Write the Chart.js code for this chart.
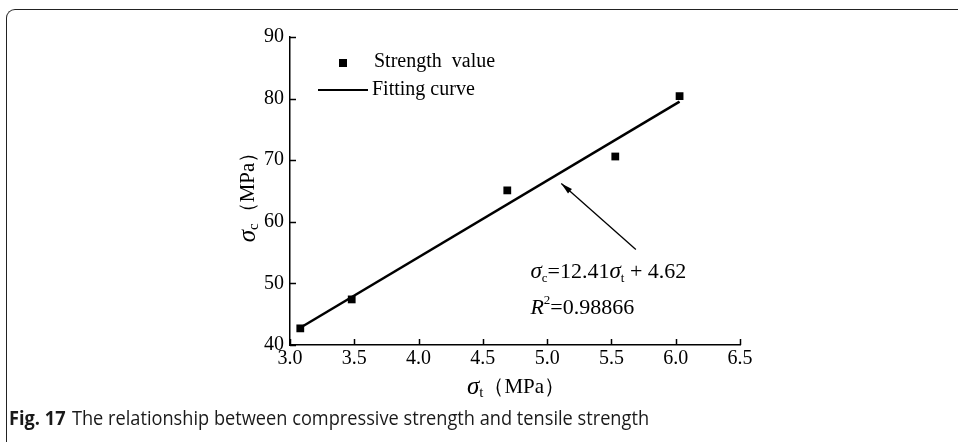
<!DOCTYPE html>
<html>
<head>
<meta charset="utf-8">
<script src="https://cdn.jsdelivr.net/npm/chart.js@4.4.1/dist/chart.umd.min.js"></script>
<style>
  html, body { margin: 0; padding: 0; background: #fff; }
  #wrap { position: relative; width: 958px; height: 442px; overflow: hidden; }
  #frame { position: absolute; left: 6px; top: 9px; width: 980px; height: 460px;
           border-left: 1.5px solid #222; border-top: 1.5px solid #222; border-top-left-radius: 9px; }
  #chart { position: absolute; left: 0; top: 0; }
  #caption { position: absolute; left: 9px; top: 404px; font-family: "Open Sans", sans-serif;
             font-size: 20px; color: #1a1a1a; white-space: nowrap; transform-origin: left center; transform: scaleX(0.91); }
  #caption b { font-weight: 700; margin-right: 7px; }
</style>
</head>
<body>
<div id="wrap">
  <div id="frame"></div>
  <canvas id="chart" width="958" height="442"></canvas>
  <div id="caption"><b>Fig. 17</b>The relationship between compressive strength and tensile strength</div>
</div>
<script>
const tensile = [3.08, 3.48, 4.69, 5.53, 6.03];       // σt (MPa)
const compressive = [42.7, 47.4, 65.1, 70.6, 80.4];   // σc (MPa)

// fitted line ends (σc = 12.41σt + 4.62)
const fitX = [3.08, 6.03];
const fitY = [42.8, 79.5];

const xTicks = [3.0, 3.5, 4.0, 4.5, 5.0, 5.5, 6.0, 6.5];
const yTicks = [40, 50, 60, 70, 80, 90];

const serif = '"Liberation Serif", "Times New Roman", serif';

// draws a list of text pieces left to right, returns the width
function drawPieces(ctx, pieces, x, y, align) {
  let w = 0;
  pieces.forEach(p => { ctx.font = p.font; w += ctx.measureText(p.t).width; });
  let cx = align === 'center' ? x - w / 2 : x;
  ctx.textBaseline = 'middle';
  ctx.textAlign = 'left';
  pieces.forEach(p => {
    ctx.font = p.font;
    ctx.fillText(p.t, cx, y + (p.dy || 0));
    cx += ctx.measureText(p.t).width;
  });
  return w;
}

const extras = {
  id: 'extras',
  afterDraw(chart) {
    const { ctx, scales: { x, y } } = chart;
    ctx.save();
    ctx.strokeStyle = '#000';
    ctx.fillStyle = '#000';

    // inward tick marks
    ctx.lineWidth = 1.5;
    xTicks.forEach(v => {
      const px = Math.round(x.getPixelForValue(v)) + 0.5;
      ctx.beginPath(); ctx.moveTo(px, y.bottom); ctx.lineTo(px, y.bottom - 6); ctx.stroke();
    });
    yTicks.forEach(v => {
      const py = Math.round(y.getPixelForValue(v)) + 0.5;
      ctx.beginPath(); ctx.moveTo(x.left, py); ctx.lineTo(x.left + 6, py); ctx.stroke();
    });

    // arrow pointing to the fitted line
    const x0 = x.getPixelForValue(5.69), y0 = y.getPixelForValue(55.5);
    const x1 = x.getPixelForValue(5.11), y1 = y.getPixelForValue(66.2);
    ctx.lineWidth = 1.3;
    ctx.beginPath(); ctx.moveTo(x0, y0); ctx.lineTo(x1, y1); ctx.stroke();
    const a = Math.atan2(y1 - y0, x1 - x0);
    ctx.beginPath();
    ctx.moveTo(x1, y1);
    ctx.lineTo(x1 - 12 * Math.cos(a - 0.25), y1 - 12 * Math.sin(a - 0.25));
    ctx.lineTo(x1 - 12 * Math.cos(a + 0.25), y1 - 12 * Math.sin(a + 0.25));
    ctx.closePath(); ctx.fill();

    // equation
    const big = '22px ' + serif, ital = 'italic 23px ' + serif, sm = '13px ' + serif;
    const ex = x.getPixelForValue(4.87);
    drawPieces(ctx, [
      { t: 'σ', font: ital }, { t: 'c', font: sm, dy: 6 }, { t: '=12.41', font: big },
      { t: 'σ', font: ital }, { t: 't', font: sm, dy: 6 }, { t: ' + 4.62', font: big }
    ], ex, y.getPixelForValue(51.8));
    drawPieces(ctx, [
      { t: 'R', font: 'italic 22px ' + serif }, { t: '2', font: sm, dy: -7 }, { t: '=0.98866', font: big }
    ], ex, y.getPixelForValue(46.0));

    // legend
    ctx.fillRect(339, 59, 8, 8);
    ctx.font = '20px ' + serif;
    ctx.textBaseline = 'middle';
    ctx.fillText('Strength  value', 374, 62);
    ctx.lineWidth = 2;
    ctx.beginPath(); ctx.moveTo(318, 90); ctx.lineTo(368, 90); ctx.stroke();
    ctx.fillText('Fitting curve', 372, 90);

    // axis titles
    const unit = '21px ' + serif;
    drawPieces(ctx, [
      { t: 'σ', font: 'italic 25px ' + serif }, { t: 't', font: '15px ' + serif, dy: 6 },
      { t: '（MPa）', font: unit }
    ], 516, 387, 'center');
    ctx.translate(248, 192);
    ctx.rotate(-Math.PI / 2);
    drawPieces(ctx, [
      { t: 'σ', font: 'italic 25px ' + serif }, { t: 'c', font: '15px ' + serif, dy: 6 },
      { t: '（MPa）', font: unit }
    ], 0, 0, 'center');
    ctx.restore();
  }
};

new Chart(document.getElementById('chart'), {
  type: 'scatter',
  data: {
    datasets: [
      {
        label: 'Fitting curve',
        type: 'line',
        data: fitX.map((v, i) => ({ x: v, y: fitY[i] })),
        borderColor: '#000',
        borderWidth: 2.5,
        pointRadius: 0,
        fill: false
      },
      {
        label: 'Strength value',
        data: tensile.map((v, i) => ({ x: v, y: compressive[i] })),
        pointStyle: 'rect',
        pointRadius: 5.5,
        backgroundColor: '#000',
        borderColor: '#000',
        borderWidth: 0
      }
    ]
  },
  options: {
    responsive: false,
    animation: false,
    layout: { padding: { left: 0, right: 218, top: 37, bottom: 0 } },
    plugins: { legend: { display: false }, tooltip: { enabled: false } },
    scales: {
      x: {
        type: 'linear',
        min: 3.0, max: 6.5,
        afterBuildTicks: s => { s.ticks = xTicks.map(v => ({ value: v })); },
        afterFit: s => { s.height = 97; },
        grid: { display: false, drawTicks: false },
        border: { color: '#000', width: 1.5 },
        ticks: { color: '#000', padding: 2, font: { family: serif, size: 20 }, callback: v => v.toFixed(1) }
      },
      y: {
        min: 40, max: 90,
        afterBuildTicks: s => { s.ticks = yTicks.map(v => ({ value: v })); },
        afterFit: s => { s.width = 290; },
        grid: { display: false, drawTicks: false },
        border: { color: '#000', width: 1.5 },
        ticks: { color: '#000', padding: 6, font: { family: serif, size: 20 } }
      }
    }
  },
  plugins: [extras]
});
</script>
</body>
</html>
